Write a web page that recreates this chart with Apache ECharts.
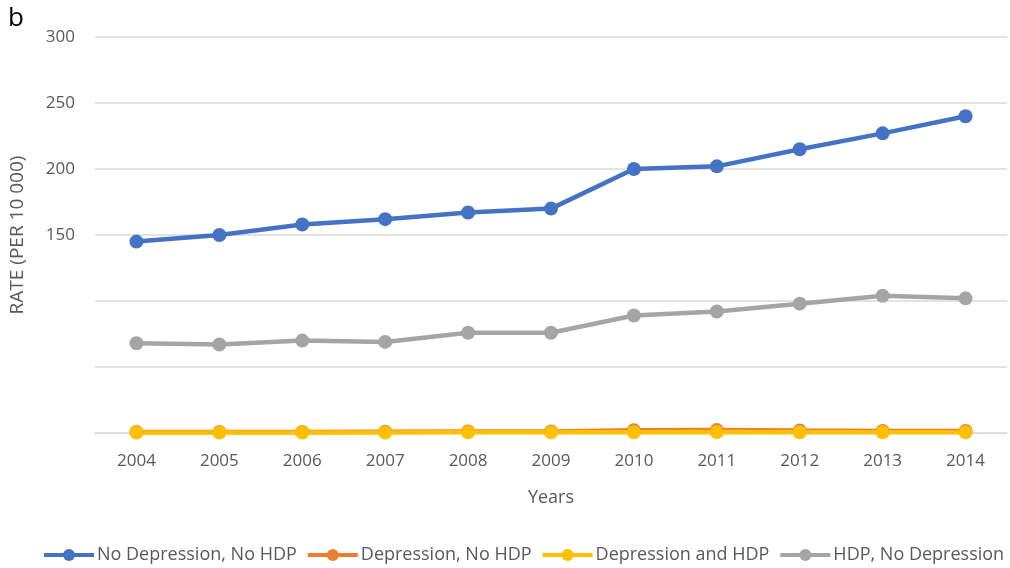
<!DOCTYPE html>
<html>
<head>
<meta charset="utf-8">
<script src="https://cdn.jsdelivr.net/npm/echarts@6/dist/echarts.min.js"></script>
<style>
  html, body { margin: 0; padding: 0; background: #fff; }
  #chart { width: 1010px; height: 568px; }
</style>
</head>
<body>
<div id="chart"></div>
<script>
// data
const years = ['2004', '2005', '2006', '2007', '2008', '2009', '2010', '2011', '2012', '2013', '2014']
const noDepNoHdp = [145, 150, 158, 162, 167, 170, 200, 202, 215, 227, 240]
const depNoHdp = [0.8, 0.8, 0.8, 1, 1.2, 1.2, 2, 2.2, 1.8, 1.6, 1.6]
const depAndHdp = [0.3, 0.3, 0.3, 0.4, 0.5, 0.5, 0.6, 0.7, 0.6, 0.6, 0.6]
const hdpNoDep = [68, 67, 70, 69, 76, 76, 89, 92, 98, 104, 102]
const hiddenTicks = [0, 50, 100]

const font = 'Open Sans'
const textColor = '#595959'

function lineSeries (name, color, data) {
  return {
    name: name,
    type: 'line',
    data: data,
    symbol: 'circle',
    symbolSize: 14,
    lineStyle: { width: 4.5, color: color },
    itemStyle: { color: color },
    animation: false
  }
}

const chart = echarts.init(document.getElementById('chart'))
chart.setOption({
  textStyle: { fontFamily: font },
  graphic: [{
    type: 'text',
    left: 8,
    top: 6,
    style: { text: 'b', fontSize: 26, fill: '#000', fontFamily: font }
  }],
  grid: {
    left: 95,
    right: 3,
    top: 37,
    bottom: 135,
    outerBoundsMode: 'none'
  },
  legend: {
    left: 42,
    top: 546,
    width: 1000,
    padding: 0,
    itemWidth: 50,
    itemHeight: 15,
    itemGap: 9,
    lineStyle: { width: 4 },
    textStyle: { fontSize: 18, color: textColor, fontFamily: font, padding: [0, 0, 0, -2] },
    data: ['No Depression, No HDP', 'Depression, No HDP', 'Depression and HDP', 'HDP, No Depression']
  },
  xAxis: {
    type: 'category',
    data: years,
    boundaryGap: true,
    name: 'Years',
    nameLocation: 'middle',
    nameGap: 56,
    nameTextStyle: { fontSize: 18, color: textColor },
    axisLine: { lineStyle: { color: '#d9d9d9' } },
    axisTick: { show: false },
    axisLabel: { fontSize: 17, color: textColor, margin: 20 }
  },
  yAxis: {
    type: 'value',
    min: 0,
    max: 300,
    interval: 50,
    name: 'RATE (PER 10 000)',
    nameLocation: 'middle',
    nameGap: 68,
    nameRotate: 90,
    nameTextStyle: { fontSize: 19, color: textColor },
    axisLine: { show: false },
    axisTick: { show: false },
    axisLabel: {
      fontSize: 17,
      color: textColor,
      margin: 20,
      formatter: v => hiddenTicks.includes(v) ? '' : String(v)
    },
    splitLine: { lineStyle: { color: '#d9d9d9', width: 1.5 } }
  },
  series: [
    lineSeries('No Depression, No HDP', '#4472c4', noDepNoHdp),
    lineSeries('Depression, No HDP', '#ed7d31', depNoHdp),
    lineSeries('Depression and HDP', '#ffc000', depAndHdp),
    lineSeries('HDP, No Depression', '#a5a5a5', hdpNoDep)
  ]
})
</script>
</body>
</html>
